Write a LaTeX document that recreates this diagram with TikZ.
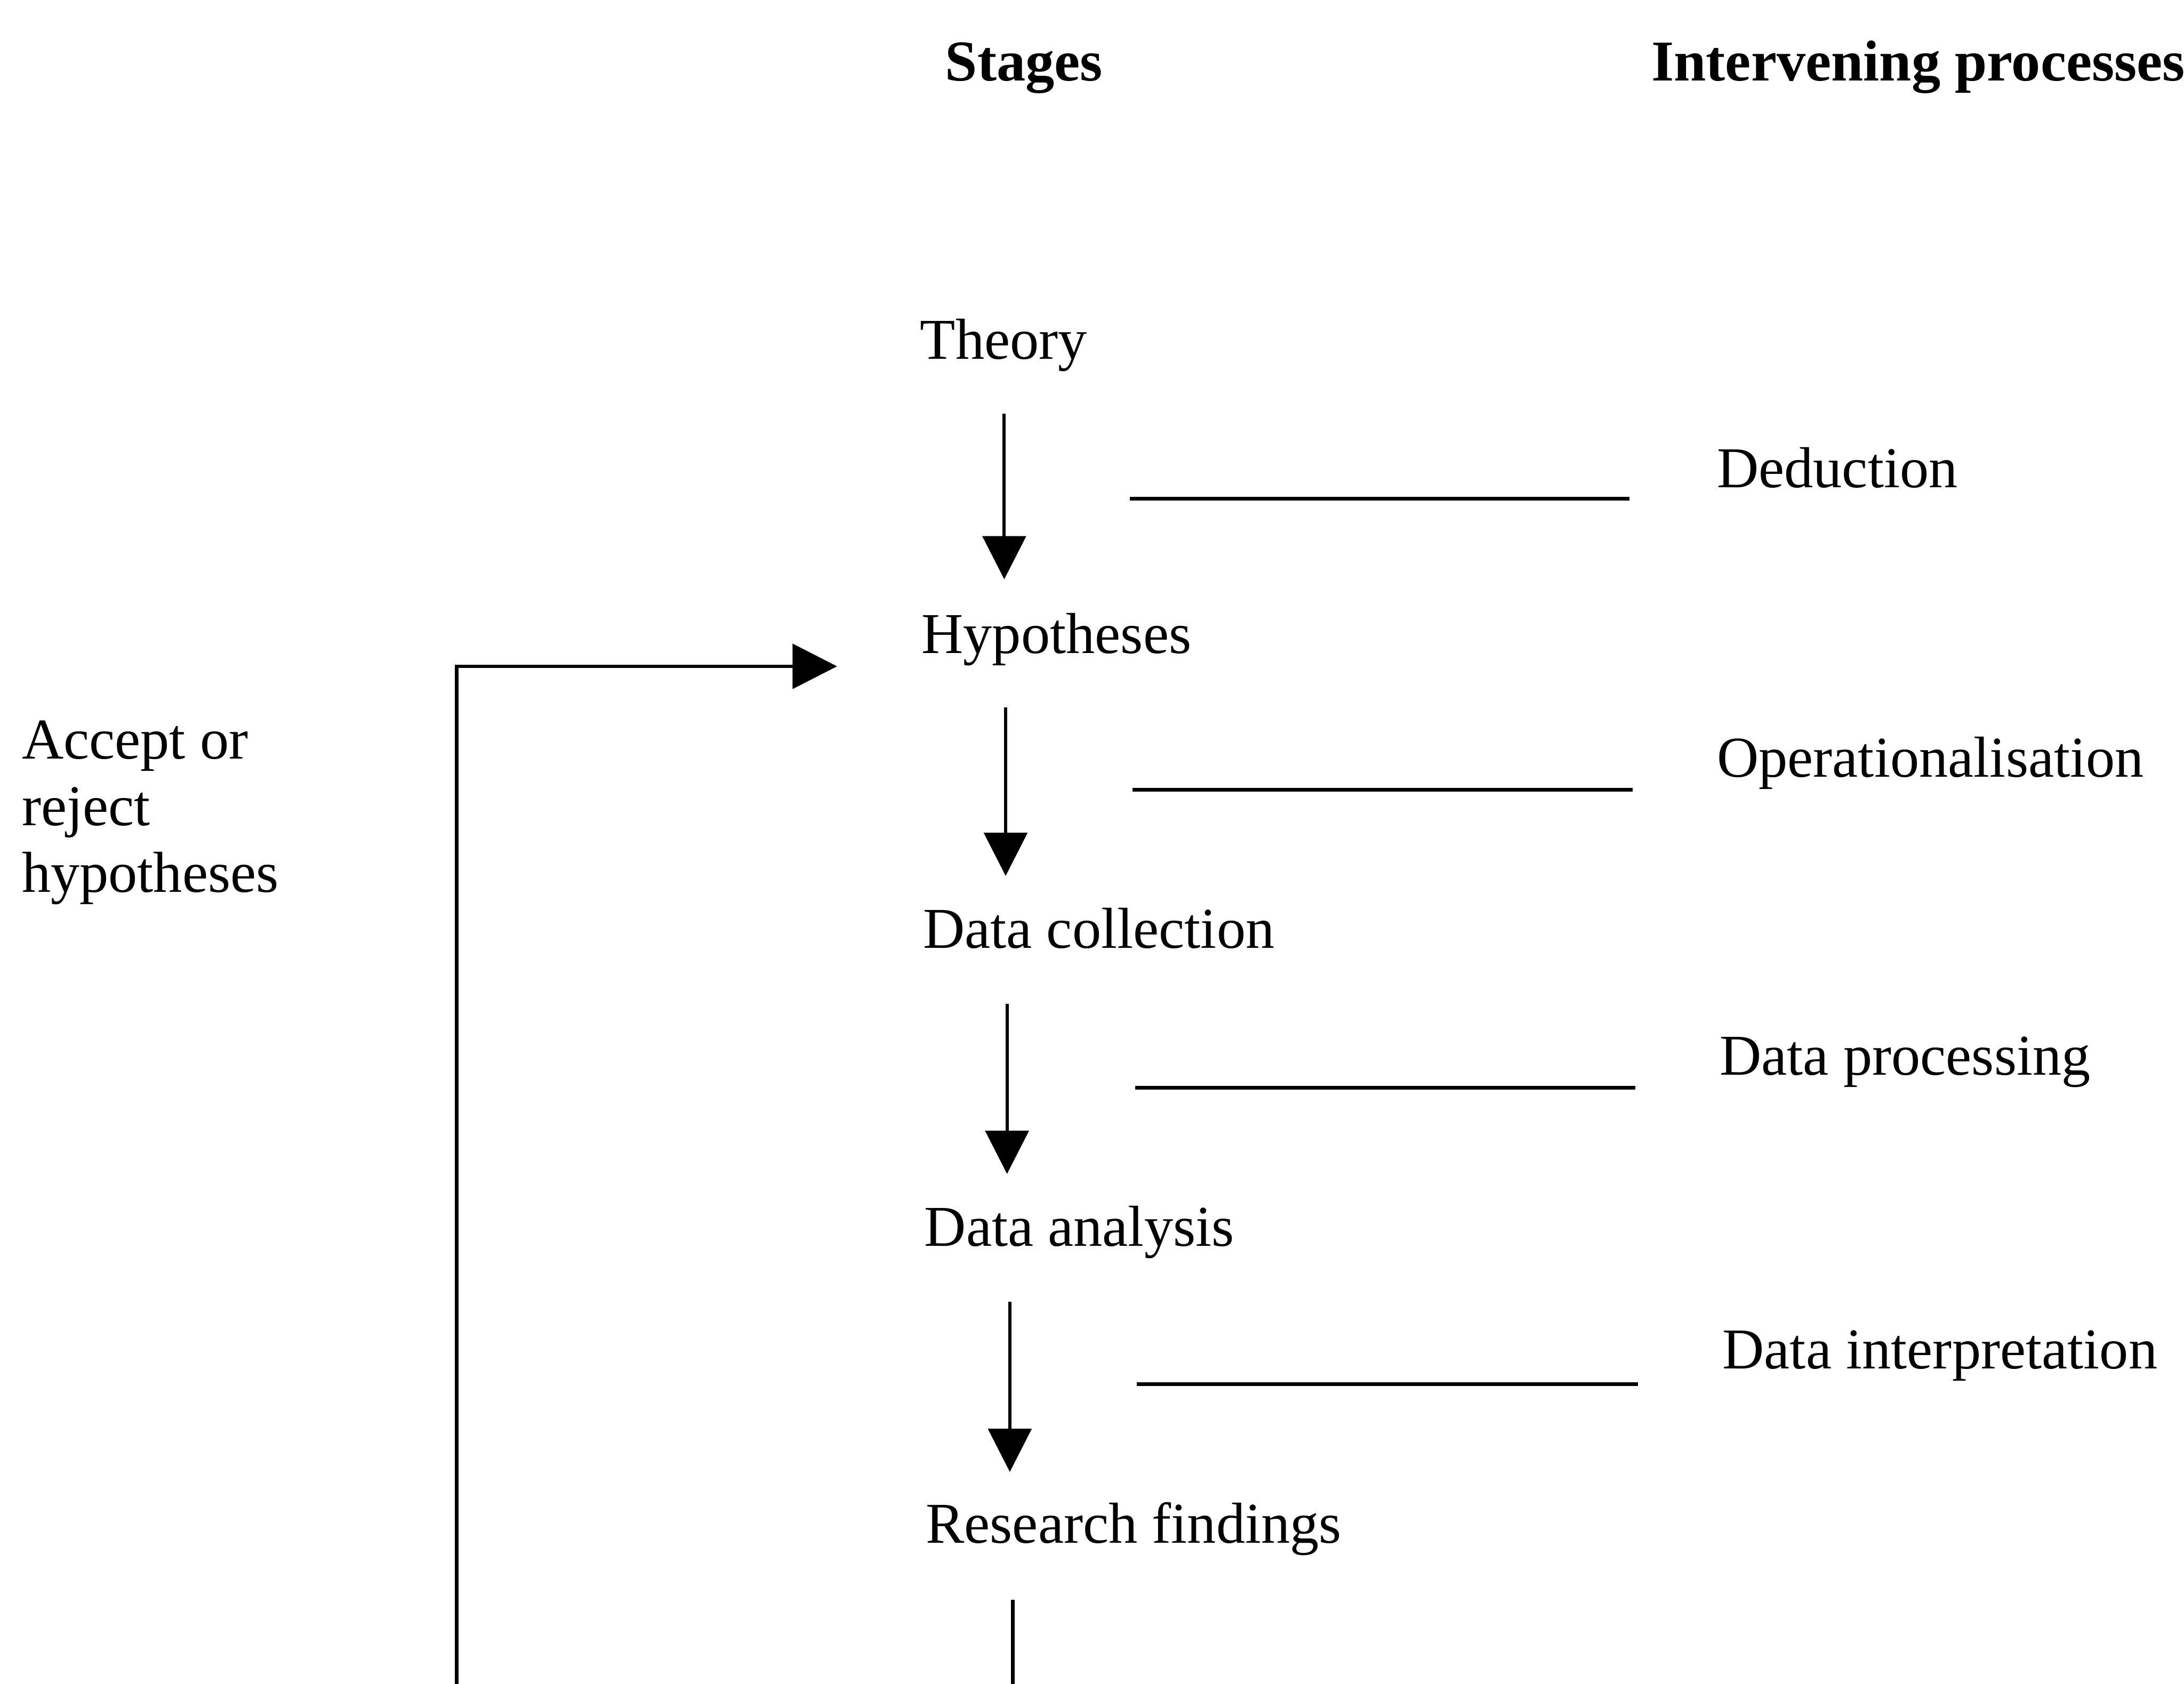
\documentclass[tikz,border=0pt]{standalone}
\usepackage{fontspec}
\setmainfont{Liberation Serif}
\usetikzlibrary{arrows.meta}
\begin{document}
\begin{tikzpicture}[x=0.01cm,y=-0.01cm,
  label/.style={anchor=base west,inner sep=0pt,font=\fontsize{11.8}{13.6}\selectfont},
  head/.style={label,font=\fontsize{11.8}{13.6}\selectfont\bfseries},
  flow/.style={line width=0.65pt,-{Triangle[length=0.31cm,width=0.31cm]}},
  link/.style={line width=0.75pt},
  back/.style={line width=0.75pt,-{Triangle[length=0.32cm,width=0.32cm]}}]
\clip (0,0) rectangle (1568,1209);
\fill[white] (0,0) rectangle (1568,1209);

% column headings
\node[head] (stages) at (678,58) {Stages};
\node[head] (proc) at (1185,58) {Intervening processes};

% stages
\node[label] (theory) at (660,258) {Theory};
\node[label] (hyp) at (661,469) {Hypotheses};
\node[label] (coll) at (662,681) {Data collection};
\node[label] (anal) at (663,895) {Data analysis};
\node[label] (find) at (664,1108) {Research findings};

% intervening processes
\node[label] (ded) at (1232,350) {Deduction};
\node[label] (oper) at (1232,558) {Operationalisation};
\node[label] (proc1) at (1234,772) {Data processing};
\node[label] (interp) at (1236,983) {Data interpretation};

\node[label,align=left,anchor=north west] (acc) at (15,517)
  {Accept or\\reject\\hypotheses};

% arrows between stages
\coordinate (a1s) at (721,297);  \coordinate (a1e) at (721,416);
\coordinate (a2s) at (722,508);  \coordinate (a2e) at (722,629);
\coordinate (a3s) at (723,721);  \coordinate (a3e) at (723,843);
\coordinate (a4s) at (725,935);  \coordinate (a4e) at (725,1057);
\draw[flow] (a1s) -- (a1e);
\draw[flow] (a2s) -- (a2e);
\draw[flow] (a3s) -- (a3e);
\draw[flow] (a4s) -- (a4e);

% lines to the intervening processes
\coordinate (l1s) at (811,358);  \coordinate (l1e) at (1170,358);
\coordinate (l2s) at (813,567);  \coordinate (l2e) at (1172,567);
\coordinate (l3s) at (815,781);  \coordinate (l3e) at (1174,781);
\coordinate (l4s) at (816,994);  \coordinate (l4e) at (1176,994);
\draw[link] (l1s) -- (l1e);
\draw[link] (l2s) -- (l2e);
\draw[link] (l3s) -- (l3e);
\draw[link] (l4s) -- (l4e);

% line leaving the findings
\coordinate (f1) at (727,1149);
\coordinate (f2) at (727,1215);
\draw[link] (f1) -- (f2);

% feedback loop back to the hypotheses
\coordinate (fb0) at (328,1215);
\coordinate (fb1) at (328,478.5);
\coordinate (fb2) at (601,478.5);
\draw[back] (fb0) -- (fb1) -- (fb2);
\end{tikzpicture}
\end{document}
